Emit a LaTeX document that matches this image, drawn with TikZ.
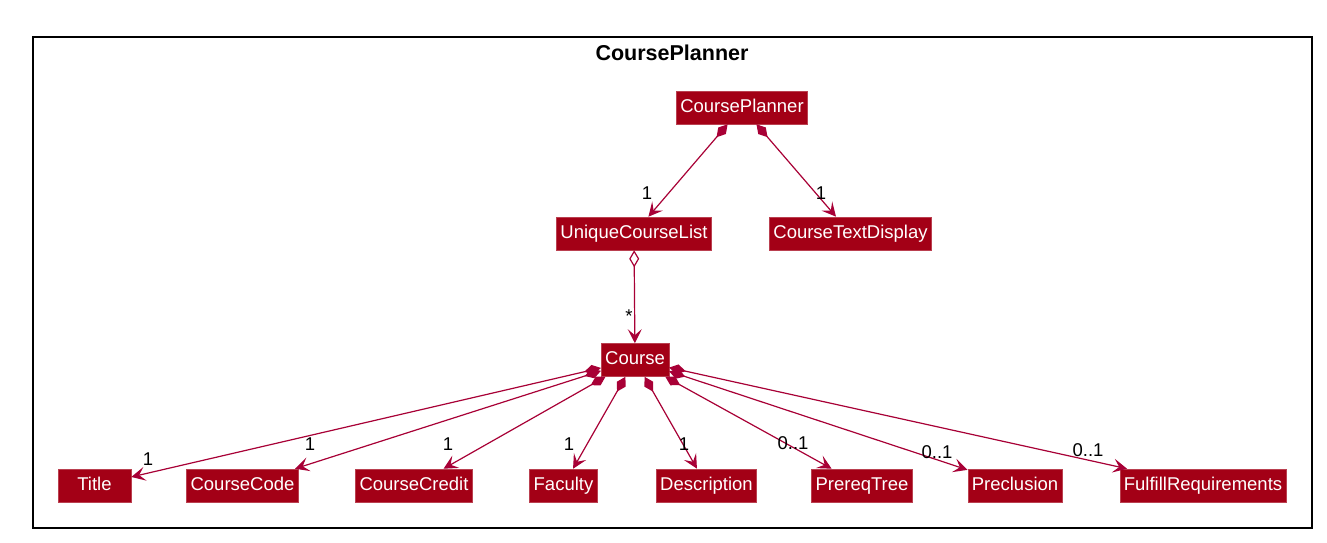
\documentclass[tikz,border=0pt]{standalone}
\usepackage{fontspec}
\setmainfont{Liberation Sans}
\usepackage{tikz}
\usetikzlibrary{arrows.meta,positioning}
\definecolor{umlRed}{RGB}{163,0,22}
\definecolor{umlLine}{RGB}{168,0,54}

\begin{document}
\begin{tikzpicture}[x=1pt,y=-1pt,
  cls/.style={fill=umlRed, draw=umlRed!75!white, line width=0.6pt, text=white,
    minimum height=33pt, inner xsep=4pt, inner ysep=7.5pt, text height=13.5pt, text depth=4pt,
    font=\fontsize{18.5}{20}\selectfont},
  mult/.style={inner sep=0pt, font=\fontsize{18.5}{20}\selectfont},
  comp/.style={umlLine, line width=1.2pt,
    {Diamond[length=17pt,width=10pt]}-{Stealth[length=14pt,width=14pt,inset=6pt]}},
  aggr/.style={umlLine, line width=1.2pt,
    {Diamond[open,length=17pt,width=10pt]}-{Stealth[length=14pt,width=14pt,inset=6pt]}}]
\useasboundingbox[fill=white] (0,0) rectangle (1327,543);
\draw[line width=1.4pt] (33,37) rectangle (1312,528);
\node[font=\bfseries\fontsize{21.5}{22}\selectfont] (pkg) at (672,53) {CoursePlanner};

% classes
\node[cls] (planner) at (742,107.5) {CoursePlanner};
\node[cls] (ulist) at (634,233.5) {UniqueCourseList};
\node[cls] (display) at (850.5,233.5) {CourseTextDisplay};
\node[cls] (course) at (635,360) {Course};
\node[cls, minimum width=73pt] (title) at (94.5,485.5) {Title};
\node[cls] (code) at (242.5,485.5) {CourseCode};
\node[cls] (credit) at (414,485.5) {CourseCredit};
\node[cls] (faculty) at (563.5,485.5) {Faculty};
\node[cls] (desc) at (706.5,485.5) {Description};
\node[cls] (prereq) at (862,485.5) {PrereqTree};
\node[cls] (preclu) at (1015,485.5) {Preclusion};
\node[cls] (fulfill) at (1203,485.5) {FulfillRequirements};

% associations
\draw[comp] (planner) -- (ulist);
\draw[comp] (planner) -- (display);
\draw[aggr] (ulist) -- (course);
\foreach \t in {title,code,credit,faculty,desc,prereq,preclu,fulfill}
  \draw[comp] (course) -- (\t);

% multiplicities
\node[mult] (mUlist) at (647,193) {1};
\node[mult] (mDisplay) at (821,193) {1};
\node[mult] (mCourse) at (629,316) {*};
\node[mult] (mTitle) at (148,459) {1};
\node[mult] (mCode) at (310,444) {1};
\node[mult] (mCredit) at (448,444) {1};
\node[mult] (mFaculty) at (569,444) {1};
\node[mult] (mDesc) at (684,444) {1};
\node[mult] (mPrereq) at (793,443) {0..1};
\node[mult] (mPreclu) at (937,452) {0..1};
\node[mult] (mFulfill) at (1088,450) {0..1};
\end{tikzpicture}
\end{document}
